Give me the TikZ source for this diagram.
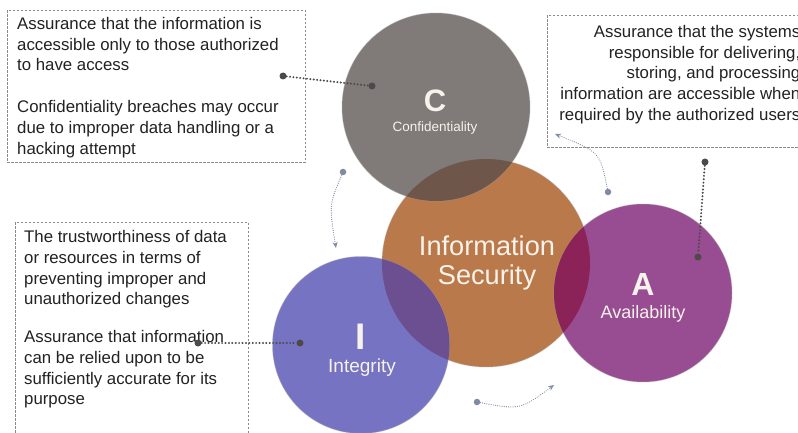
\documentclass[tikz,border=0pt]{standalone}
\usepackage{fontspec}
\setmainfont{Liberation Sans}
\usetikzlibrary{arrows.meta}
\definecolor{cgray}{HTML}{807A79}
\definecolor{corange}{HTML}{B9794A}
\definecolor{cpurple}{HTML}{984C92}
\definecolor{cblue}{HTML}{7773C3}
\definecolor{ovco}{HTML}{6F564A}
\definecolor{ovio}{HTML}{6B4F90}
\definecolor{ovao}{HTML}{8C2358}
\definecolor{txtdark}{HTML}{222222}
\definecolor{txtlight}{HTML}{F7F2EA}
\definecolor{conncol}{HTML}{4E4A4A}
\definecolor{curvcol}{HTML}{7E8CA2}
\definecolor{boxcol}{HTML}{8A8A8A}
\tikzset{
  ball/.style={circle, inner sep=0pt, draw=black!35, draw opacity=0.35, line width=1pt},
  databox/.style={rectangle, draw=boxcol, line width=0.7pt, dash pattern=on 2.5pt off 1.5pt, inner sep=0pt},
  boxtext/.style={inner sep=0pt, text=txtdark, font=\fontsize{16.8}{20.7}\selectfont},
  bigletter/.style={inner sep=0pt, text=txtlight, font=\bfseries},
  smalllabel/.style={inner sep=0pt, text=txtlight},
  enddot/.style={circle, fill=conncol, inner sep=0pt, minimum size=7pt},
  bluedot/.style={circle, fill=curvcol, inner sep=0pt, minimum size=6.5pt},
  conn/.style={draw=conncol, line width=2.2pt, dash pattern=on 0pt off 3.4pt, line cap=round},
  curv/.style={draw=curvcol, line width=1.2pt, dash pattern=on 0pt off 2.2pt, line cap=round,
    -{Stealth[length=6pt,width=5pt,line cap=butt]}},
}
\begin{document}
\begin{tikzpicture}[x=1pt,y=-1pt]
\useasboundingbox (0,0) rectangle (798,433);
\fill[white] (0,0) rectangle (798,433);

% circles
\node[ball, fill=corange, minimum size=208pt] (O) at (486,263) {};
\node[ball, fill=cgray, minimum size=188pt] (C) at (436,107) {};
\node[ball, fill=cpurple, minimum size=178pt] (A) at (643,293) {};
\node[ball, fill=cblue, minimum size=177pt] (I) at (361,345) {};

% overlaps
\begin{scope}
  \clip (O.center) circle[radius=104pt];
  \fill[ovco] (C.center) circle[radius=94pt];
  \fill[ovao] (A.center) circle[radius=89pt];
  \fill[ovio] (I.center) circle[radius=88.5pt];
\end{scope}

% circle labels
\node[bigletter, anchor=base, font=\bfseries\fontsize{31}{31}\selectfont] (Cl) at (435,112) {C};
\node[smalllabel, anchor=base, font=\fontsize{13.5}{14}\selectfont] (Cs) at (435,132) {Confidentiality};
\node[smalllabel, align=center, font=\fontsize{27.2}{29}\selectfont] (Ol) at (487,262.5) {Information\\Security};
\node[bigletter, anchor=base, font=\bfseries\fontsize{32}{32}\selectfont] (Al) at (643,295) {A};
\node[smalllabel, anchor=base, font=\fontsize{18}{18}\selectfont] (As) at (643,318) {Availability};
\node[bigletter, anchor=base, font=\bfseries\fontsize{37}{37}\selectfont] (Il) at (361,349) {I};
\node[smalllabel, anchor=base, font=\fontsize{19}{19}\selectfont] (Is) at (362,372) {Integrity};

% text boxes
\node[databox, anchor=north west, minimum width=298pt, minimum height=152pt] (cbox) at (7,10) {};
\node[boxtext, anchor=north west, align=left] (ctxt) at (17,17.2) {Assurance that the information is\\accessible only to those authorized\\to have access\\[21.3pt]Confidentiality breaches may occur\\due to improper data handling or a\\hacking attempt};

\node[databox, anchor=north west, minimum width=260pt, minimum height=132pt] (abox) at (547,15) {};
\node[boxtext, anchor=north east, align=right] (atxt) at (800.5,25) {Assurance that the systems\\responsible for delivering,\\storing, and processing\\information are accessible when\\required by the authorized users};

\node[databox, anchor=north west, minimum width=233pt, minimum height=230pt] (ibox) at (15,222) {};
\node[boxtext, anchor=north west, align=left] (itxt) at (24,230.5) {The trustworthiness of data\\or resources in terms of\\preventing improper and\\unauthorized changes\\[17pt]Assurance that information\\can be relied upon to be\\sufficiently accurate for its\\purpose};

% dotted connectors
\node[enddot] (cd1) at (283,76) {};
\node[enddot] (cd2) at (372,86) {};
\draw[conn] (cd1) -- (cd2);
\node[enddot] (id1) at (198,343) {};
\node[enddot] (id2) at (300,343) {};
\draw[conn] (id1) -- (id2);
\node[enddot] (ad1) at (705,162) {};
\node[enddot] (ad2) at (698,257) {};
\draw[conn] (ad1) -- (ad2);

% curved arrows
\node[bluedot] (k1) at (343,172) {};
\coordinate (k1e) at (336,248);
\draw[curv] (k1) .. controls (329,205) .. (k1e);
\node[bluedot] (k2) at (608,192) {};
\coordinate (k2e) at (555,134);
\draw[curv] (k2) .. controls (600,152) .. (k2e);
\node[bluedot] (k3) at (477,402) {};
\coordinate (k3e) at (554,385);
\draw[curv] (k3) .. controls (520,410) .. (k3e);
\end{tikzpicture}
\end{document}
